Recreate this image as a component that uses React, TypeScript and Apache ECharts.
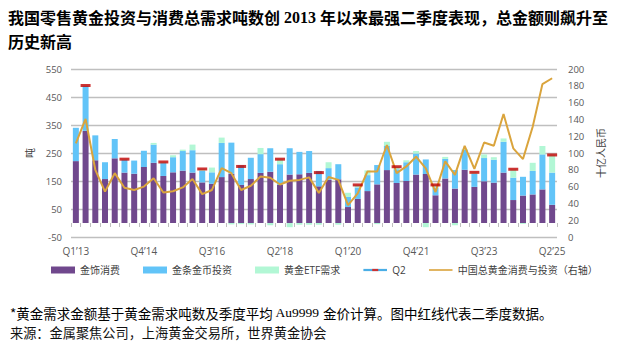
import React, { useEffect, useRef } from "react";
import * as echarts from "echarts";

const categories = [
  "Q1’13","Q2’13","Q3’13","Q4’13","Q1’14","Q2’14","Q3’14","Q4’14",
  "Q1’15","Q2’15","Q3’15","Q4’15","Q1’16","Q2’16","Q3’16","Q4’16",
  "Q1’17","Q2’17","Q3’17","Q4’17","Q1’18","Q2’18","Q3’18","Q4’18",
  "Q1’19","Q2’19","Q3’19","Q4’19","Q1’20","Q2’20","Q3’20","Q4’20",
  "Q1’21","Q2’21","Q3’21","Q4’21","Q1’22","Q2’22","Q3’22","Q4’22",
  "Q1’23","Q2’23","Q3’23","Q4’23","Q1’24","Q2’24","Q3’24","Q4’24",
  "Q1’25","Q2’25",
];

const jewellery = [
  221, 329, 224, 157, 231, 180, 176, 200, 215, 168,
  181, 187, 180, 145, 140, 164, 176, 136, 157, 179,
  183, 136, 173, 174, 179, 131, 154, 156, 57, 86,
  114, 138, 189, 143, 150, 173, 175, 99, 159, 123,
  190, 129, 149, 144, 180, 82, 98, 102, 120, 65,
];

const barsCoins = [
  119, 160, 89, 60, 69, 45, 47, 58, 65, 46,
  54, 70, 80, 41, 41, 122, 111, 70, 76, 67,
  84, 74, 94, 80, 78, 55, 42, 54, 36, 41,
  57, 69, 86, 49, 67, 75, 52, 28, 70, 66,
  71, 46, 83, 82, 110, 80, 67, 84, 125, 115,
];

const etf = [
  0, 2, 0, 0, 0, 3, 0, 0, 6, 4,
  7, 5, 20, 7, 17, 19, -5, -4, -5, 22,
  -8, 18, -15, -6, -6, -6, 21, -6, 15, 9,
  17, -4, 15, 9, 7, 9, -15, 9, 7, -8,
  3, 6, 13, 9, 12, 30, -3, 29, 30, 63,
];

const totalValue = [
  111.5, 140.5, 80, 54, 76, 58.7, 56, 60, 70, 53,
  54.5, 59, 69, 51, 56, 82, 76, 56, 61, 72,
  70.5, 62.5, 67, 68, 71, 52.5, 71.5, 68, 38, 52,
  78, 78, 109.5, 76, 84, 95.6, 81.7, 53.5, 90, 74,
  108.5, 81, 112.5, 108.7, 146.4, 105.6, 92.8, 131.3, 182, 189,
];

const leftTicks = [-50, 50, 150, 250, 350, 450, 550];

const names = {
  j: "金饰消费",
  b: "金条金币投资",
  e: "黄金ETF需求",
  q: "Q2",
  l: "中国总黄金消费与投资（右轴）",
};

const COLORS = {
  j: "#70488D",
  b: "#62C4F8",
  e: "#B2F7D5",
  q: "#C00000",
  l: "#DAA43C",
};

const q2Marks = categories.map((c, i) =>
  c.startsWith("Q2") ? jewellery[i] + barsCoins[i] + etf[i] : "-"
);

function svgIcon(svg: string) {
  return "image://data:image/svg+xml;charset=utf-8," + encodeURIComponent(svg);
}

const q2Icon = svgIcon(
  "<svg xmlns='http://www.w3.org/2000/svg' width='24' height='7' viewBox='0 0 24 7'><rect x='0' y='2.4' width='24' height='2.2' fill='#1E9BE0'/><rect x='9' y='2.4' width='6' height='2.2' fill='#C00000'/></svg>"
);
const lineIcon = svgIcon(
  "<svg xmlns='http://www.w3.org/2000/svg' width='24' height='7' viewBox='0 0 24 7'><rect x='0' y='2.7' width='24' height='1.6' fill='#DAA43C'/></svg>"
);

const SANS = "'Open Sans', 'Noto Sans CJK SC', sans-serif";
const CJK = "'Noto Sans CJK SC', sans-serif";
const SERIF = "'Liberation Serif', serif";

export default function App() {
  const ref = useRef<HTMLDivElement>(null);

  useEffect(() => {
    if (!ref.current) return;
    const chart = echarts.init(ref.current, null, { renderer: "svg" });
    chart.setOption({
      animation: false,
      backgroundColor: "#ffffff",
      grid: {
        left: 71,
        right: 65,
        top: 69,
        bottom: 110,
        containLabel: false,
        outerBoundsMode: "none",
      },
      legend: {
        left: 51,
        top: 265,
        padding: 0,
        itemWidth: 24,
        itemHeight: 7,
        itemGap: 23,
        textStyle: { fontSize: 10, color: "#404040", fontFamily: SANS },
        data: [
          { name: names.j, icon: "rect" },
          { name: names.b, icon: "rect" },
          { name: names.e, icon: "rect" },
          { name: names.q, icon: q2Icon },
          { name: names.l, icon: lineIcon },
        ],
      },
      xAxis: [
        {
          type: "category",
          data: categories,
          position: "bottom",
          boundaryGap: true,
          axisLine: { show: false, onZero: false },
          axisTick: { show: false },
          axisLabel: {
            interval: 6,
            margin: 9,
            fontSize: 10,
            color: "#595959",
            fontFamily: SANS,
          },
          splitLine: { show: false },
        },
        {
          type: "category",
          data: categories,
          position: "bottom",
          offset: -14,
          boundaryGap: true,
          axisLine: { show: false, onZero: false },
          axisTick: {
            show: true,
            interval: 0,
            length: 4,
            alignWithLabel: false,
            lineStyle: { color: "#BFBFBF", width: 1 },
          },
          axisLabel: { show: false },
          splitLine: { show: false },
        },
      ],
      yAxis: [
        {
          type: "value",
          min: -50,
          max: 550,
          name: "吨",
          nameLocation: "middle",
          nameGap: 30,
          nameRotate: 90,
          nameTextStyle: { fontSize: 10, color: "#404040", fontFamily: CJK },
          axisLine: { show: false },
          axisTick: { show: false, customValues: leftTicks },
          axisLabel: {
            customValues: leftTicks,
            fontSize: 9.5,
            color: "#595959",
            margin: 9,
            fontFamily: SANS,
          },
          splitLine: { show: true, lineStyle: { color: "#BFBFBF", width: 1.3 } },
        },
        {
          type: "value",
          position: "right",
          min: 0,
          max: 200,
          interval: 20,
          name: "十亿人民币",
          nameLocation: "middle",
          nameGap: 32,
          nameRotate: 90,
          nameTextStyle: { fontSize: 10, color: "#404040", fontFamily: CJK },
          axisLine: { show: false },
          axisTick: { show: false },
          axisLabel: { fontSize: 9.5, color: "#595959", margin: 11, fontFamily: SANS },
          splitLine: { show: false },
        },
      ],
      series: [
        {
          name: names.j,
          type: "bar",
          stack: "demand",
          barWidth: 6,
          itemStyle: { color: COLORS.j },
          data: jewellery,
        },
        {
          name: names.b,
          type: "bar",
          stack: "demand",
          barWidth: 6,
          itemStyle: { color: COLORS.b },
          data: barsCoins,
        },
        {
          name: names.e,
          type: "bar",
          stack: "demand",
          barWidth: 6,
          itemStyle: { color: COLORS.e },
          data: etf,
        },
        {
          name: names.l,
          type: "line",
          yAxisIndex: 1,
          symbol: "none",
          showSymbol: false,
          z: 5,
          lineStyle: { color: COLORS.l, width: 2 },
          itemStyle: { color: COLORS.l },
          data: totalValue,
        },
        {
          name: names.q,
          type: "scatter",
          symbol: "rect",
          symbolSize: [10, 3],
          z: 6,
          itemStyle: { color: COLORS.q },
          data: q2Marks,
        },
      ],
      graphic: [
        {
          type: "text",
          x: 8,
          y: 17,
          style: {
            text:
              "{a|我国零售黄金投资与消费总需求吨数创}{b| 2013 }{a|年以来最强二季度表现，总金额则飙升至}",
            verticalAlign: "middle",
            align: "left",
            rich: {
              a: { fontFamily: CJK, fontWeight: "bold", fontSize: 16, lineHeight: 20, color: "#000" },
              b: { fontFamily: SERIF, fontWeight: "bold", fontSize: 16, lineHeight: 20, color: "#000" },
            },
          },
        },
        {
          type: "text",
          x: 8,
          y: 41,
          style: {
            text: "历史新高",
            verticalAlign: "middle",
            align: "left",
            font: "bold 16px 'Noto Sans CJK SC', sans-serif",
            lineHeight: 20,
            fill: "#000",
          },
        },
        {
          type: "text",
          x: 10,
          y: 312.5,
          style: {
            text:
              "{a|*黄金需求金额基于黄金需求吨数及季度平均}{b| Au9999 }{a|金价计算。图中红线代表二季度数据。}",
            verticalAlign: "middle",
            align: "left",
            rich: {
              a: { fontFamily: CJK, fontSize: 13.5, lineHeight: 14, color: "#111" },
              b: { fontFamily: SERIF, fontSize: 13.5, lineHeight: 14, color: "#1a2a4a" },
            },
          },
        },
        {
          type: "text",
          x: 10,
          y: 332,
          style: {
            text: "来源：金属聚焦公司，上海黄金交易所，世界黄金协会",
            verticalAlign: "middle",
            align: "left",
            font: "13.2px 'Noto Sans CJK SC', sans-serif",
            lineHeight: 14,
            fill: "#111",
          },
        },
      ],
    });
    return () => chart.dispose();
  }, []);

  return (
    <div
      ref={ref}
      style={{ position: "fixed", left: 0, top: 0, width: 622, height: 347 }}
    />
  );
}
